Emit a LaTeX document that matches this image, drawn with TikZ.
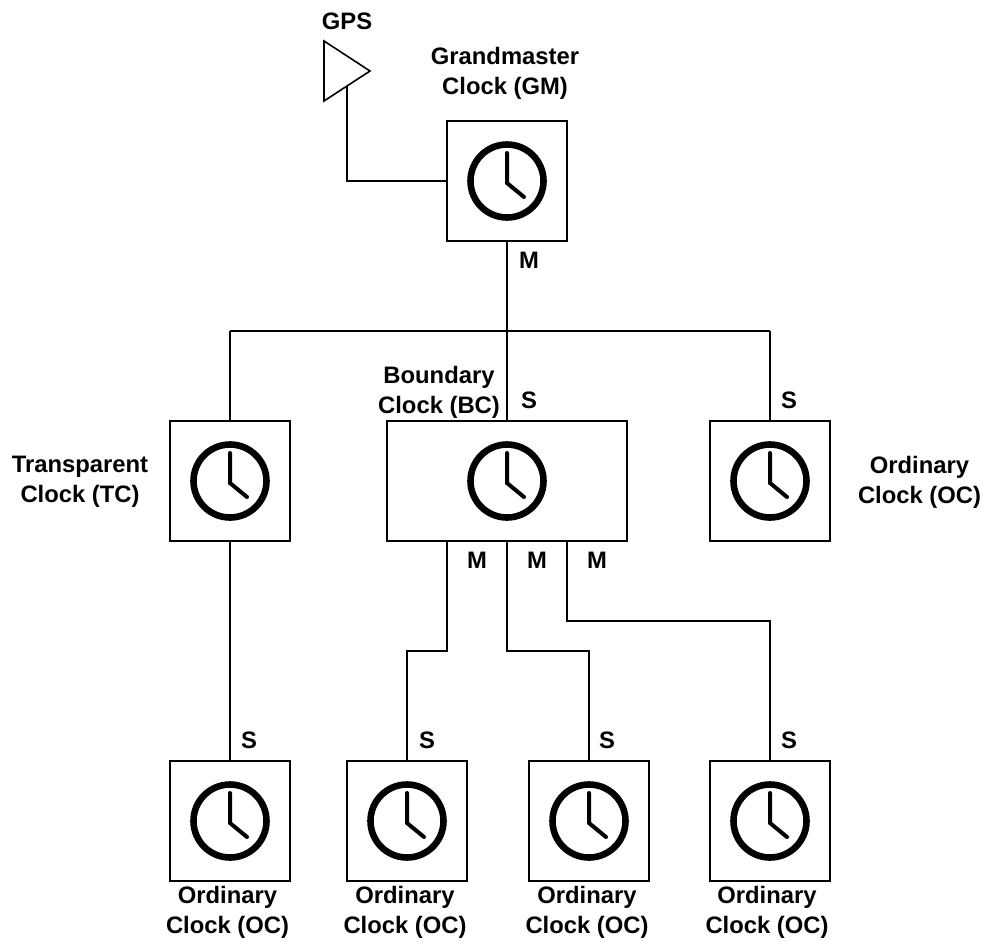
\documentclass[tikz,border=0pt]{standalone}
\usepackage{fontspec}
\setmainfont{Liberation Sans}
\usetikzlibrary{calc}
\tikzset{
  x=1pt,y=-1pt,
  clockbox/.style={draw=black,line width=2pt,fill=white,minimum width=#1,minimum height=120pt,inner sep=0pt,outer sep=0pt},
  clockbox/.default=120pt,
  wire/.style={draw=black,line width=2pt,line join=miter},
  lab/.style={font=\fontsize{23.8}{30}\bfseries\selectfont,align=center,inner sep=0pt,text=black},
  port/.style={font=\fontsize{23.8}{26}\bfseries\selectfont,inner sep=0pt,text=black},
  clockface/.pic={
    \draw[black,line width=6.6pt] (0,0) circle[radius=36.5pt];
    \draw[black,line width=4pt,line cap=round,line join=miter] (0,-28) -- (0,2) -- (17,16);
  }
}
\begin{document}
\begin{tikzpicture}
\useasboundingbox (0,0) rectangle (984,940);
% boxes
\node[clockbox] (gm) at (507,181) {};
\node[clockbox] (tc) at (230,481) {};
\node[clockbox=240pt] (bc) at (507,481) {};
\node[clockbox] (oc) at (770,481) {};
\node[clockbox] (oa) at (230,821) {};
\node[clockbox] (ob) at (407,821) {};
\node[clockbox] (oc2) at (589,821) {};
\node[clockbox] (od) at (770,821) {};
\foreach \n in {gm,tc,bc,oc,oa,ob,oc2,od} \pic at (\n) {clockface};
% antenna
\draw[black,line width=1.6pt,line join=miter] (324,41) -- (370,71) -- (324,101) -- cycle;
\coordinate (ant) at (347,86);
\coordinate (bus) at (507,331);
\coordinate (busl) at (230,331);
\coordinate (busr) at (770,331);
\draw[wire] (ant) |- (gm.west);
\draw[wire] (gm.south) -- (bus);
\draw[wire] (busl) -- (busr);
\draw[wire] (busl) -- (tc.north);
\draw[wire] (bus) -- (bc.north);
\draw[wire] (busr) -- (oc.north);
\draw[wire] (tc.south) -- (oa.north);
\coordinate (p1) at (447,541);
\coordinate (p2) at (507,541);
\coordinate (p3) at (567,541);
\draw[wire] (p1) -- (447,651) -- (407,651) -- (ob.north);
\draw[wire] (p2) -- (507,651) -- (589,651) -- (oc2.north);
\draw[wire] (p3) -- (567,621) -- (770,621) -- (od.north);
% labels
\node[port] (t0) at (347,21) {GPS};
\node[lab] (t1) at (505,73) {Grandmaster\\Clock (GM)};
\node[lab] (t2) at (439,392) {Boundary\\Clock (BC)};
\node[lab] (t3) at (80,482) {Transparent\\Clock (TC)};
\node[lab] (t4) at (919.5,482) {Ordinary\\Clock (OC)};
\node[lab] (t5) at (227.5,912) {Ordinary\\Clock (OC)};
\node[lab] (t6) at (405,912) {Ordinary\\Clock (OC)};
\node[lab] (t7) at (587,912) {Ordinary\\Clock (OC)};
\node[lab] (t8) at (767,912) {Ordinary\\Clock (OC)};
\node[port] (m0) at (529,260) {M};
\node[port] (s0) at (529,400) {S};
\node[port] (s1) at (789,400) {S};
\node[port] (m1) at (477,560) {M};
\node[port] (m2) at (537,560) {M};
\node[port] (m3) at (597,560) {M};
\node[port] (s2) at (249,740) {S};
\node[port] (s3) at (427,740) {S};
\node[port] (s4) at (607,740) {S};
\node[port] (s5) at (789,740) {S};
\end{tikzpicture}
\end{document}
